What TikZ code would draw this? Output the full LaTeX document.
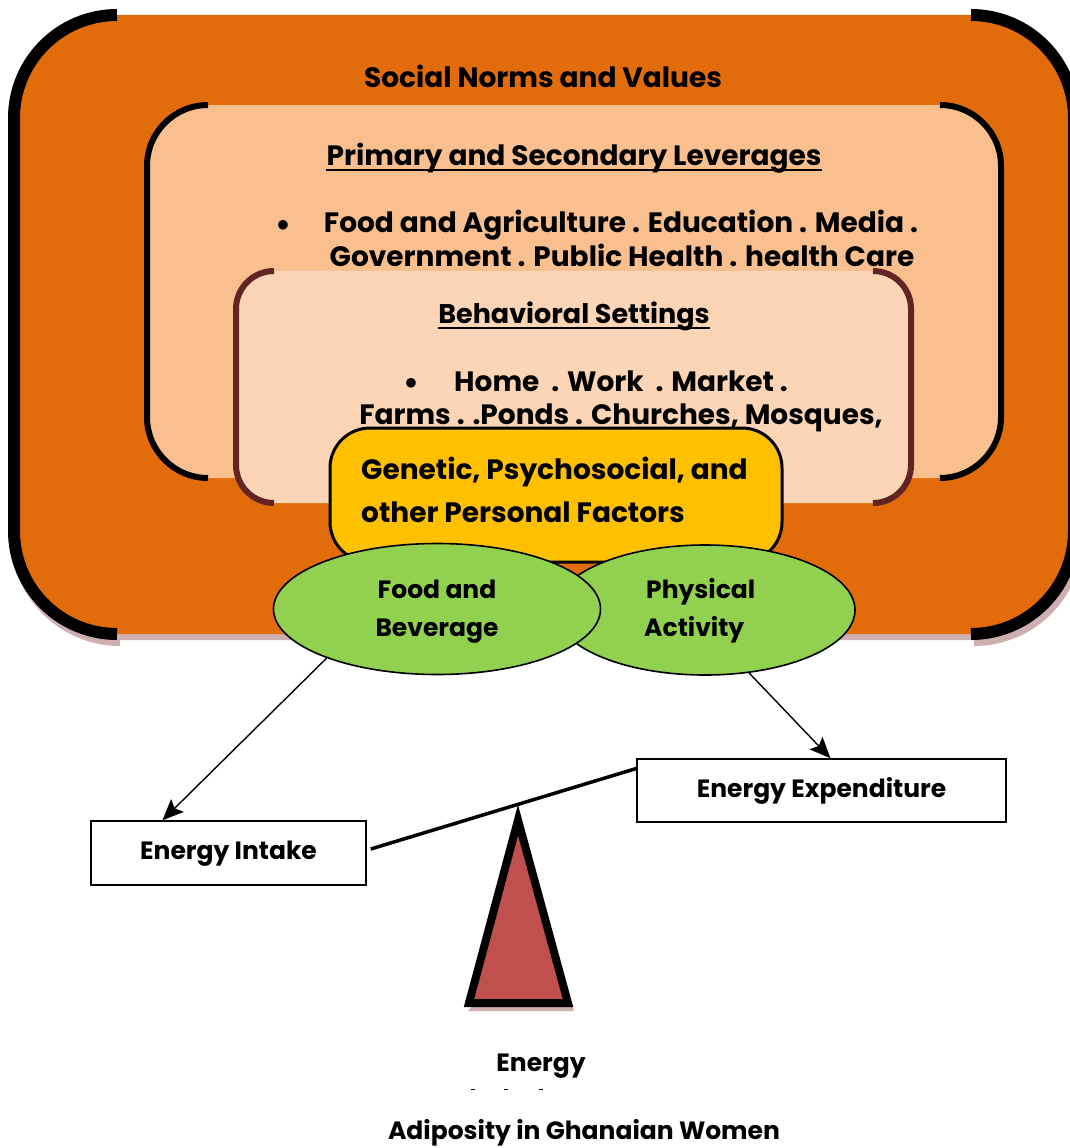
\documentclass[tikz,border=0pt]{standalone}
\usepackage{fontspec}
\setmainfont{Poppins}
\usetikzlibrary{arrows.meta,shapes.geometric,calc}
\definecolor{orangeD}{HTML}{E36C0A}
\definecolor{peachM}{HTML}{FABF8F}
\definecolor{peachL}{HTML}{FBD5B5}
\definecolor{maroon}{HTML}{632523}
\definecolor{yel}{HTML}{FFC000}
\definecolor{grn}{HTML}{92D050}
\definecolor{redT}{HTML}{C0504D}
\definecolor{shad}{HTML}{CFAEB1}
\tikzset{
  txt/.style={font=\fontsize{28}{32}\selectfont\bfseries, inner sep=0pt, anchor=base},
  txtm/.style={txt, font=\fontsize{27}{32}\selectfont\bfseries},
  txts/.style={txt, font=\fontsize{25}{30}\selectfont\bfseries},
  txtl/.style={txt, anchor=base west},
  txtsl/.style={txts, anchor=base west},
  bul/.style={inner sep=0pt, font=\fontsize{32}{36}\selectfont},
  ul/.style={line width=2.2pt},
  ell/.style={ellipse, draw=black, line width=1.6pt, fill=grn, inner sep=0pt},
  ebox/.style={draw=black, line width=1.5pt, fill=white, inner sep=0pt},
  arr/.style={line width=1.4pt, -{Stealth[length=21pt,width=18pt,inset=4pt]}},
}
\begin{document}
\begin{tikzpicture}[x=1pt,y=-1pt]
\useasboundingbox (0,0) rectangle (1069,1148);
% ---------- outer orange box with shadow
\begin{scope}[shift={(3,6)}]
  \fill[shad, rounded corners=103pt] (14,15) rectangle (1074,634);
  \draw[shad, line width=12pt, rounded corners=103pt] (117,15) -- (14,15) -- (14,634) -- (117,634);
  \draw[shad, line width=12pt, rounded corners=103pt] (971,15) -- (1074,15) -- (1074,634) -- (971,634);
\end{scope}
\fill[orangeD, rounded corners=103pt] (14,15) rectangle (1074,634);
\draw[black, line width=12pt, rounded corners=103pt] (117,15) -- (14,15) -- (14,634) -- (117,634);
\draw[black, line width=12pt, rounded corners=103pt] (971,15) -- (1074,15) -- (1074,634) -- (971,634);
% ---------- primary box
\fill[peachM, rounded corners=61pt] (147,105) rectangle (1001,478);
\draw[black, line width=6pt, rounded corners=61pt] (208,105) -- (147,105) -- (147,478) -- (208,478);
\draw[black, line width=6pt, rounded corners=61pt] (940,105) -- (1001,105) -- (1001,478) -- (940,478);
% ---------- behavioral box
\fill[peachL, rounded corners=38pt] (236,271) rectangle (911,503);
\draw[maroon, line width=6pt, rounded corners=38pt] (274,271) -- (236,271) -- (236,503) -- (274,503);
\draw[maroon, line width=6pt, rounded corners=38pt] (873,271) -- (911,271) -- (911,503) -- (873,503);
% ---------- texts in boxes
\node[txt] (social) at (543,87) {Social Norms and Values};
\node[txt] (primary) at (574,165) {Primary and Secondary Leverages};
\draw[ul] ($(primary.base west)+(0,5)$) -- ($(primary.base east)+(0,5)$);
\node[bul] (b1) at (283,226) {$\bullet$};
\node[txt] (lev1) at (621,232) {Food and Agriculture . Education . Media .};
\node[txt] (lev2) at (622,266) {Government . Public Health . health Care};
\node[txtm] (behav) at (574,323) {Behavioral Settings};
\draw[ul] ($(behav.base west)+(0,5)$) -- ($(behav.base east)+(0,5)$);
\node[bul] (b2) at (411,384) {$\bullet$};
\node[txt] (set1) at (621,391) {Home\ \ . Work\ \ . Market .};
\node[txt] (set2) at (621,424) {Farms . .Ponds . Churches, Mosques,};
% ---------- yellow box
\draw[black, line width=3pt, fill=yel, rounded corners=40pt] (330,428) rectangle (782,562);
\node[txtl] (gen1) at (361,479) {Genetic, Psychosocial, and};
\node[txtl] (gen2) at (361,522) {other Personal Factors};
% ---------- ellipses
\node[ell, minimum width=300pt, minimum height=130pt] (pa) at (705,610) {};
\node[ell, minimum width=327pt, minimum height=131pt] (fb) at (437,609) {};
\node[txts] (fb1) at (437,598) {Food and};
\node[txts] (fb2) at (437,636) {Beverage};
\node[txtsl] (pa1) at (646,598) {Physical};
\node[txtsl] (pa2) at (644,636) {Activity};
% ---------- energy boxes
\node[ebox, minimum width=275pt, minimum height=64pt] (intake) at (228.5,853) {};
\node[txts] (intaket) at (228.5,859) {Energy Intake};
\node[ebox, minimum width=369pt, minimum height=63pt] (expend) at (821.5,790.5) {};
\node[txts] (expendt) at (821.5,797) {Energy Expenditure};
% ---------- arrows
\draw[arr] (fb.204) -- ($(intake.north)+(-66,0)$);
\draw[arr] (pa.305) -- ($(expend.north)+(9,0)$);
% ---------- lever and fulcrum
\draw[line width=3.5pt] ($(intake.east)+(4,-4)$) -- ($(expend.west)+(0,-22)$);
\fill[shad] (472,1006) -- (572,1006) -- (574,1011) -- (468,1011) -- cycle;
\draw[line width=8pt, fill=redT, line join=miter, miter limit=20] (518,820) -- (568,1003) -- (469,1003) -- cycle;
% ---------- bottom labels
\node[txts] (energy) at (541,1071) {Energy};
\foreach \xx in {473,506,541} \draw[line width=1pt] (\xx-2,1089) -- (\xx+2,1089);
\node[txts] (adip) at (584,1139) {Adiposity in Ghanaian Women};
\end{tikzpicture}
\end{document}
